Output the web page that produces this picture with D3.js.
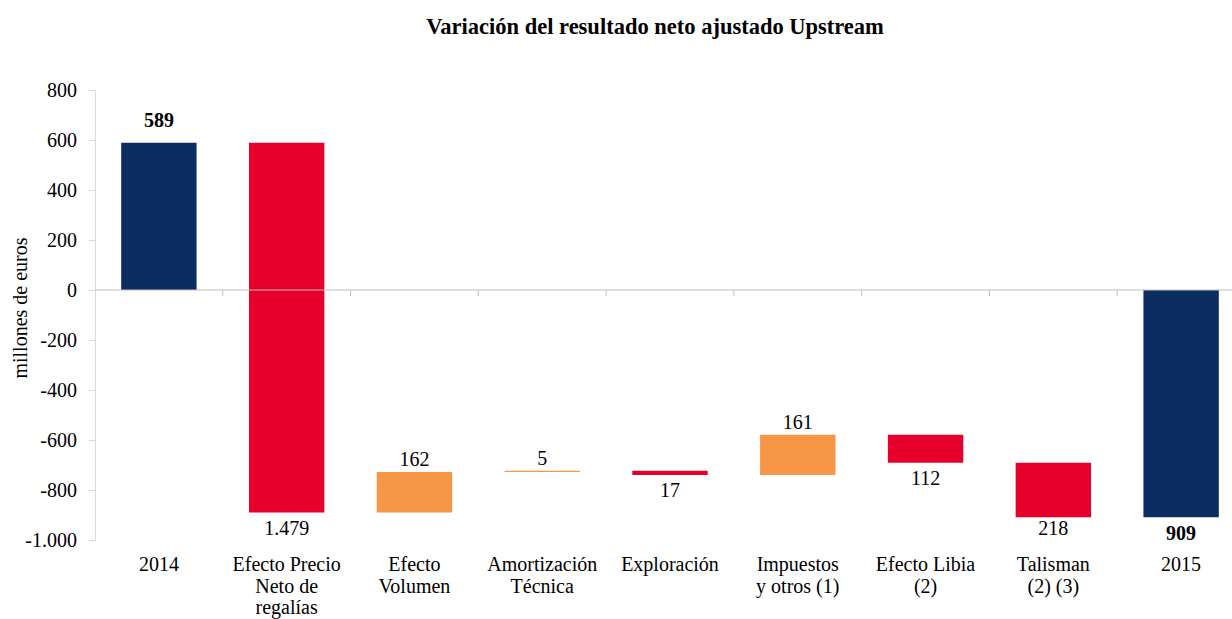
<!DOCTYPE html>
<html>
<head>
<meta charset="utf-8">
<script src="https://cdn.jsdelivr.net/npm/d3@7"></script>
<style>
  html, body { margin: 0; padding: 0; background: #fff; overflow: hidden; }
  svg { display: block; font-family: "Liberation Serif", "Times New Roman", serif; }
  svg text { font-family: "Liberation Serif", "Times New Roman", serif; }
</style>
</head>
<body>
<svg id="chart" width="1232" height="619"></svg>
<script>
// ---- data ----
const categories = [
  ['2014'],
  ['Efecto Precio', 'Neto de', 'regalías'],
  ['Efecto', 'Volumen'],
  ['Amortización', 'Técnica'],
  ['Exploración'],
  ['Impuestos', 'y otros (1)'],
  ['Efecto Libia', '(2)'],
  ['Talisman', '(2) (3)'],
  ['2015']
];
const deltas = [589, -1479, 162, 5, -17, 161, -112, -218, -909];
const kinds = ['total', 'step', 'step', 'step', 'step', 'step', 'step', 'step', 'total'];
const yTicks = [800, 600, 400, 200, 0, -200, -400, -600, -800, -1000];

const colors = { total: '#0b2d62', down: '#e4002b', up: '#f79646' };

// spanish number format (1.479 / -1.000)
const es = d3.formatLocale({ decimal: ',', thousands: '.', grouping: [3], currency: ['', ' €'], minus: '-' });
const fmt = es.format(',d');

// ---- build waterfall ----
let running = 0;
const bars = deltas.map((d, i) => {
  let start, end;
  if (kinds[i] === 'total') { start = 0; end = (i === 0) ? d : running; running = end; }
  else { start = running; end = running + d; running = end; }
  return { i, d, start, end, kind: kinds[i], lines: categories[i] };
});

const svg = d3.select('#chart');
const plotLeft = 95, plotRight = 1245, plotTop = 90, plotBottom = 540;
const fontSize = '20px';

const x = d3.scaleBand().domain(d3.range(categories.length)).range([plotLeft, plotRight]).paddingInner(0.41).paddingOuter(0.205);
const y = d3.scaleLinear().domain([-1000, 800]).range([plotBottom, plotTop]);

// title
svg.append('text')
  .attr('x', 655).attr('y', 34)
  .attr('text-anchor', 'middle')
  .style('font-size', '22.5px').style('font-weight', 'bold')
  .text('Variación del resultado neto ajustado Upstream');

// y axis label
svg.append('text')
  .attr('transform', `translate(27, 308) rotate(-90)`)
  .attr('text-anchor', 'middle')
  .style('font-size', fontSize)
  .text('millones de euros');

// y axis
const yAxis = svg.append('g')
  .attr('transform', `translate(${plotLeft},0)`)
  .call(d3.axisLeft(y).tickValues(yTicks).tickSize(6).tickPadding(12).tickFormat(fmt));
yAxis.attr('font-family', null).attr('font-size', null);
yAxis.select('.domain').attr('stroke', '#d9d9d9');
yAxis.selectAll('.tick line').attr('stroke', '#d9d9d9');
yAxis.selectAll('.tick text').style('font-size', fontSize).attr('fill', '#000');

// bars
svg.append('g').selectAll('rect').data(bars).join('rect')
  .attr('x', d => x(d.i))
  .attr('width', x.bandwidth())
  .attr('y', d => y(Math.max(d.start, d.end)))
  .attr('height', d => Math.max(1, Math.abs(y(d.start) - y(d.end))))
  .attr('fill', d => d.kind === 'total' ? colors.total : (d.d < 0 ? colors.down : colors.up));

// zero axis with ticks between categories
const zeroG = svg.append('g');
zeroG.append('line')
  .attr('x1', plotLeft).attr('x2', plotRight)
  .attr('y1', y(0)).attr('y2', y(0))
  .attr('stroke', '#bfbfbf');
zeroG.selectAll('line.tk').data(d3.range(1, categories.length)).join('line')
  .attr('class', 'tk')
  .attr('x1', i => x(i) - x.step() * x.paddingInner() / 2)
  .attr('x2', i => x(i) - x.step() * x.paddingInner() / 2)
  .attr('y1', y(0)).attr('y2', y(0) + 6)
  .attr('stroke', '#bfbfbf');

// value labels
svg.append('g').selectAll('text').data(bars).join('text')
  .attr('x', d => x(d.i) + x.bandwidth() / 2)
  .attr('y', d => {
    const hi = y(Math.max(d.start, d.end)), lo = y(Math.min(d.start, d.end));
    if (d.d >= 0) return d.kind === 'total' ? hi - 16 : hi - 6;
    if (d.i === 7) return lo + 18;
    return d.kind === 'total' ? lo + 23 : lo + 22;
  })
  .attr('text-anchor', 'middle')
  .style('font-size', fontSize)
  .style('font-weight', d => d.kind === 'total' ? 'bold' : 'normal')
  .text(d => fmt(Math.abs(d.d)));

// category labels
const cat = svg.append('g').selectAll('text').data(bars).join('text')
  .attr('x', d => x(d.i) + x.bandwidth() / 2)
  .attr('y', 571)
  .attr('text-anchor', 'middle')
  .style('font-size', fontSize);
cat.selectAll('tspan').data(d => d.lines.map(l => ({ l, cx: x(d.i) + x.bandwidth() / 2 }))).join('tspan')
  .attr('x', t => t.cx)
  .attr('dy', (t, k) => k === 0 ? 0 : 21.5)
  .text(t => t.l);
</script>
</body>
</html>
